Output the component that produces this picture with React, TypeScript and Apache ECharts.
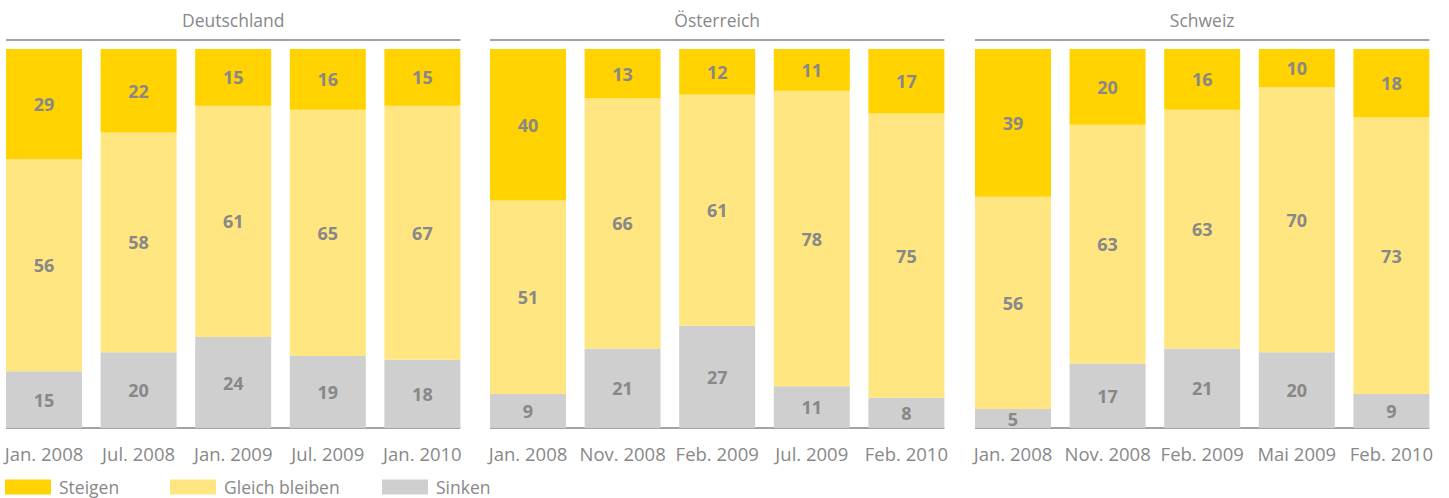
import React, { useEffect, useRef } from "react";
import * as echarts from "echarts";

const panelTitles = ["Deutschland", "Österreich", "Schweiz"];

const categoriesDE = ["Jan. 2008", "Jul. 2008", "Jan. 2009", "Jul. 2009", "Jan. 2010"];
const categoriesAT = ["Jan. 2008", "Nov. 2008", "Feb. 2009", "Jul. 2009", "Feb. 2010"];
const categoriesCH = ["Jan. 2008", "Nov. 2008", "Feb. 2009", "Mai 2009", "Feb. 2010"];

const steigenDE = [29, 22, 15, 16, 15];
const gleichDE = [56, 58, 61, 65, 67];
const sinkenDE = [15, 20, 24, 19, 18];

const steigenAT = [40, 13, 12, 11, 17];
const gleichAT = [51, 66, 61, 78, 75];
const sinkenAT = [9, 21, 27, 11, 8];

const steigenCH = [39, 20, 16, 10, 18];
const gleichCH = [56, 63, 63, 70, 73];
const sinkenCH = [5, 17, 21, 20, 9];

const seriesNames = ["Steigen", "Gleich bleiben", "Sinken"];
const colors = { Steigen: "#FFD200", "Gleich bleiben": "#FFE680", Sinken: "#CFCFCF" };

const FONT = "'Open Sans', 'Noto Sans', sans-serif";
const TEXT_GRAY = "#888888";
const LINE_GRAY = "#a3a3a3";

// the chart canvas is shifted left so that the first grid can start before x=0 of the page
const OFFSET = 12;

export default function App() {
  const ref = useRef<HTMLDivElement>(null);

  useEffect(() => {
    if (!ref.current) return;
    const chart = echarts.init(ref.current, null, { renderer: "svg" });

    const panels = [
      { cats: categoriesDE, s: steigenDE, g: gleichDE, k: sinkenDE },
      { cats: categoriesAT, s: steigenAT, g: gleichAT, k: sinkenAT },
      { cats: categoriesCH, s: steigenCH, g: gleichCH, k: sinkenCH },
    ];

    const catW = 94.6;
    const barW = 76;
    const gridW = catW * 5;
    const halfGap = (catW - barW) / 2;
    const barStarts = [6, 490, 975];
    const gridTop = 49;
    const gridBottomY = 428;

    const grids: any[] = [];
    const xAxes: any[] = [];
    const yAxes: any[] = [];
    const series: any[] = [];
    const graphics: any[] = [];

    panels.forEach((p, i) => {
      const left = barStarts[i] - halfGap + OFFSET;
      grids.push({
        left,
        width: gridW,
        top: gridTop,
        height: gridBottomY - gridTop,
        containLabel: false,
      });
      xAxes.push({
        type: "category",
        gridIndex: i,
        data: p.cats,
        axisLine: { show: false },
        axisTick: { show: false },
        axisLabel: {
          color: TEXT_GRAY,
          fontSize: 18.5,
          fontFamily: FONT,
          margin: 16,
          interval: 0,
        },
      });
      yAxes.push({
        type: "value",
        gridIndex: i,
        min: 0,
        max: 100,
        show: false,
        splitLine: { show: false },
      });
      const dataByName: Record<string, number[]> = {
        Sinken: p.k,
        "Gleich bleiben": p.g,
        Steigen: p.s,
      };
      ["Sinken", "Gleich bleiben", "Steigen"].forEach((name) => {
        series.push({
          type: "bar",
          name,
          xAxisIndex: i,
          yAxisIndex: i,
          stack: "total" + i,
          barWidth: barW,
          data: dataByName[name],
          itemStyle: { color: (colors as any)[name] },
          label: {
            show: true,
            position: "inside",
            color: TEXT_GRAY,
            fontWeight: "bold",
            fontSize: 18,
            fontFamily: FONT,
          },
          emphasis: { disabled: true },
        });
      });

      const x1 = barStarts[i] + OFFSET;
      const x2 = barStarts[i] + 4 * catW + barW + OFFSET;
      graphics.push({
        type: "line",
        shape: { x1, y1: 40, x2, y2: 40 },
        style: { stroke: LINE_GRAY, lineWidth: 2 },
      });
      graphics.push({
        type: "line",
        shape: { x1, y1: gridBottomY, x2, y2: gridBottomY },
        style: { stroke: LINE_GRAY, lineWidth: 2 },
      });
      graphics.push({
        type: "text",
        x: (x1 + x2) / 2,
        y: 20,
        style: {
          text: panelTitles[i],
          align: "center",
          verticalAlign: "middle",
          fontSize: 17.5,
          fontFamily: FONT,
          fill: TEXT_GRAY,
        },
      });
    });

    const legendLefts = [5, 170, 382];
    const legends = seriesNames.map((name, i) => ({
      data: [name],
      left: legendLefts[i] + OFFSET,
      top: 478,
      padding: 0,
      icon: "rect",
      itemWidth: 46,
      itemHeight: 15,
      selectedMode: false,
      textStyle: {
        color: TEXT_GRAY,
        fontSize: 17.5,
        lineHeight: 18,
        fontFamily: FONT,
        padding: [0, 0, 0, 3],
      },
    }));

    chart.setOption({
      animation: false,
      backgroundColor: "#ffffff",
      grid: grids,
      xAxis: xAxes,
      yAxis: yAxes,
      series,
      legend: legends,
      graphic: graphics,
    });

    return () => chart.dispose();
  }, []);

  return (
    <div
      ref={ref}
      style={{ position: "fixed", left: -OFFSET, top: 0, width: 1449 + OFFSET, height: 498 }}
    />
  );
}
